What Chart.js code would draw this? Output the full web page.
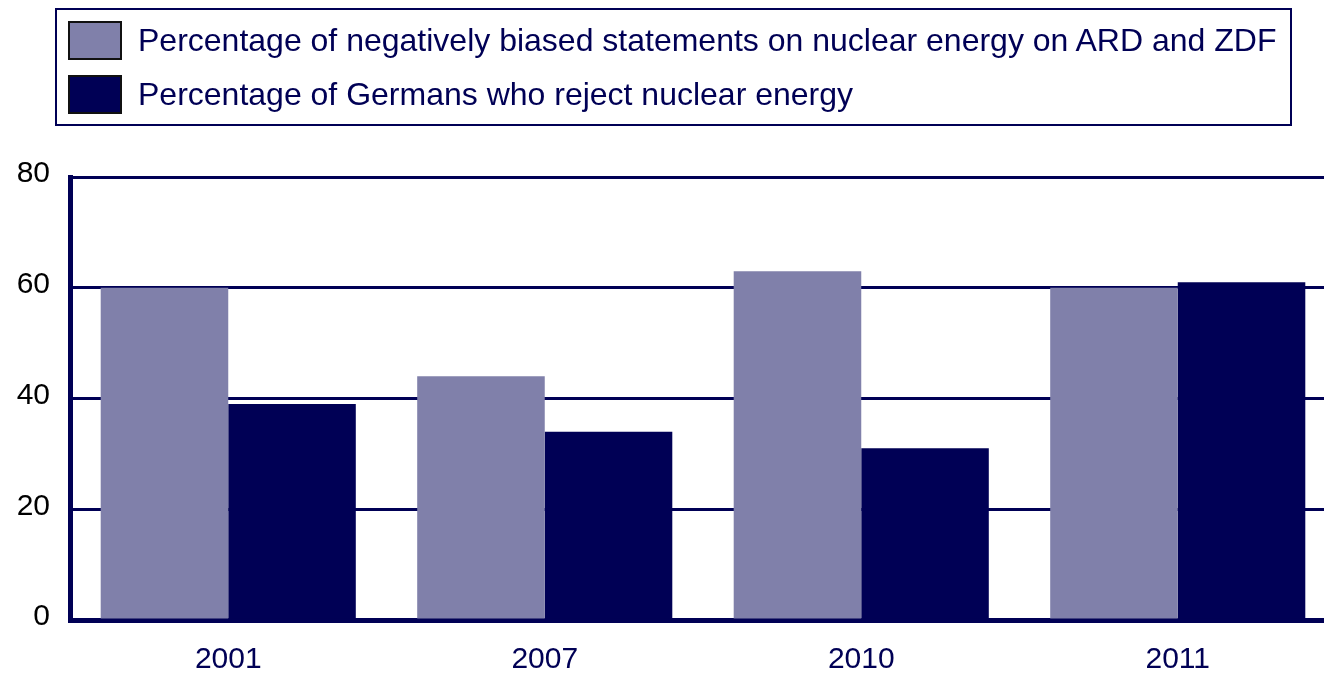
<!DOCTYPE html>
<html>
<head>
<meta charset="utf-8">
<script src="https://cdn.jsdelivr.net/npm/chart.js@4/dist/chart.umd.min.js"></script>
<style>
  html, body { margin: 0; padding: 0; background: #fff; overflow: hidden; width: 1324px; height: 674px; }
  #wrap { position: absolute; left: 0; top: 0; width: 1340px; height: 674px; }
  #legend { position: absolute; left: 55px; top: 8px; width: 1233px; height: 114px; border: 2px solid #000055; box-sizing: content-box;
    font-family: "Liberation Sans", Arial, sans-serif; font-size: 32px; color: #000055; }
  .item { position: absolute; left: 11px; height: 40px; display: flex; align-items: center; white-space: nowrap; }
  .sw { width: 54px; height: 39px; border: 2px solid #111; box-sizing: border-box; margin-right: 16px; }
</style>
</head>
<body>
<div id="wrap"><canvas id="c" width="1340" height="674"></canvas></div>
<div id="legend"></div>
<script>
const categories = ["2001", "2007", "2010", "2011"];
const seriesNames = [
  "Percentage of negatively biased statements on nuclear energy on ARD and ZDF",
  "Percentage of Germans who reject nuclear energy"
];
const negativeStatements = [60, 44, 63, 60];
const germansReject = [39, 34, 31, 61];
const yTicks = [0, 20, 40, 60, 80];
const colors = ["#8080AA", "#000055"];

const legend = document.getElementById('legend');
seriesNames.forEach((n, i) => {
  const d = document.createElement('div');
  d.className = 'item';
  d.style.top = (10 + i * 54) + 'px';
  d.innerHTML = '<div class="sw" style="background:' + colors[i] + '"></div><span>' + n + '</span>';
  legend.appendChild(d);
});

const tickFont = { family: '"Liberation Sans", Arial, sans-serif', size: 30 };

new Chart(document.getElementById('c'), {
  type: 'bar',
  data: {
    labels: categories,
    datasets: [
      { label: seriesNames[0], data: negativeStatements, backgroundColor: colors[0], barPercentage: 1, categoryPercentage: 0.806 },
      { label: seriesNames[1], data: germansReject, backgroundColor: colors[1], barPercentage: 1, categoryPercentage: 0.806 }
    ]
  },
  options: {
    responsive: false,
    animation: false,
    layout: { padding: { top: 177, right: 4, left: 0, bottom: 0 } },
    plugins: { legend: { display: false }, tooltip: { enabled: false } },
    scales: {
      x: {
        grid: { display: false, drawTicks: false },
        border: { display: true, color: '#000055', width: 5 },
        ticks: { color: '#000055', font: tickFont, padding: 22 },
        afterFit: s => { s.height = 54; }
      },
      y: {
        min: 0, max: 80,
        afterBuildTicks: s => { s.ticks = yTicks.map(v => ({ value: v })); },
        grid: { color: '#000055', lineWidth: 3, drawTicks: false },
        border: { display: true, color: '#000055', width: 5 },
        ticks: { color: '#000', font: tickFont, padding: 20, labelOffset: -3 },
        afterFit: s => { s.width = 70; }
      }
    }
  }
});
</script>
</body>
</html>
